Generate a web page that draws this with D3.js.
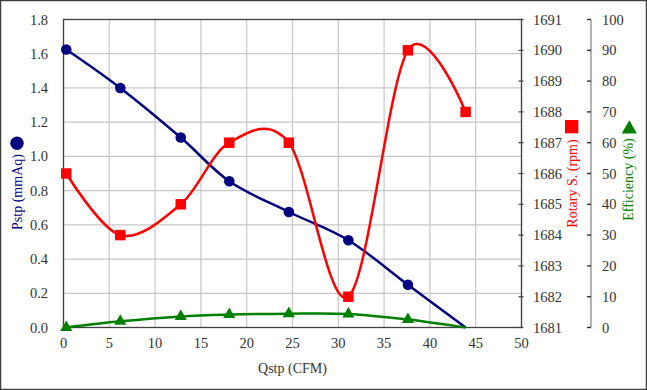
<!DOCTYPE html>
<html>
<head>
<meta charset="utf-8">
<script src="https://cdn.jsdelivr.net/npm/d3@7"></script>
<style>
  body { margin: 0; background: #fff; }
</style>
</head>
<body>
<svg id="chart"></svg>
<script>
const qstp = [0.3, 6.2, 12.8, 18.1, 24.6, 31.1, 37.6, 43.9];
const pstp = [1.625, 1.40, 1.11, 0.855, 0.675, 0.51, 0.25, 0];
const rotary = [1686, 1684, 1685, 1687, 1687, 1682, 1690, 1688];
const efficiency = [0, 2.0, 3.6, 4.2, 4.5, 4.4, 2.6, 0];

const width = 647, height = 390;
const plotL = 63.5, plotR = 521.5, plotT = 19.5, plotB = 327.5;

const svg = d3.select('#chart')
  .attr('width', width)
  .attr('height', height)
  .attr('font-family', '"Liberation Serif", "Times New Roman", "DejaVu Serif", serif');

svg.append('rect')
  .attr('x', 0.5).attr('y', 0.5)
  .attr('width', width - 1).attr('height', height - 1)
  .style('fill', '#fff')
  .style('stroke', '#404040')
  .style('stroke-width', 1.5);

const x = d3.scaleLinear().domain([0, 50]).range([plotL, plotR]);
const yP = d3.scaleLinear().domain([0, 1.8]).range([plotB, plotT]);
const yR = d3.scaleLinear().domain([1681, 1691]).range([plotB, plotT]);
const yE = d3.scaleLinear().domain([0, 100]).range([plotB, plotT]);

// grid
svg.append('g')
  .selectAll('line')
  .data(x.ticks(10))
  .enter().append('line')
    .attr('x1', d => x(d)).attr('x2', d => x(d))
    .attr('y1', plotT).attr('y2', plotB)
    .style('stroke', '#c8c8c8')
    .style('stroke-width', 1.2);
svg.append('g')
  .selectAll('line')
  .data(d3.range(0, 1.81, 0.2))
  .enter().append('line')
    .attr('x1', plotL).attr('x2', plotR)
    .attr('y1', d => yP(d)).attr('y2', d => yP(d))
    .style('stroke', '#c8c8c8')
    .style('stroke-width', 1.2);

// frame
svg.append('rect')
  .attr('x', plotL).attr('y', plotT)
  .attr('width', plotR - plotL).attr('height', plotB - plotT)
  .style('fill', 'none')
  .style('stroke', '#404040')
  .style('stroke-width', 1.3);

const tickColor = '#333';
const fontSize = 14.5;
const titleSize = 14;

// x axis labels
svg.append('g')
  .selectAll('text')
  .data(x.ticks(10))
  .enter().append('text')
    .attr('x', d => x(d))
    .attr('y', 348)
    .attr('text-anchor', 'middle')
    .style('font-size', fontSize)
    .style('fill', tickColor)
    .text(d => d);
svg.append('text')
  .attr('x', x(25)).attr('y', 373)
  .attr('text-anchor', 'middle')
  .style('font-size', titleSize)
  .style('fill', tickColor)
  .text('Qstp (CFM)');

// left axis labels
svg.append('g')
  .selectAll('text')
  .data(d3.range(0, 1.81, 0.2))
  .enter().append('text')
    .attr('x', 48)
    .attr('y', d => yP(d) + 5)
    .attr('text-anchor', 'end')
    .style('font-size', fontSize)
    .style('fill', tickColor)
    .text(d => d3.format('.1f')(d));

// rotary axis
const rTicks = d3.range(1681, 1692, 1);
svg.append('g')
  .selectAll('line')
  .data(rTicks)
  .enter().append('line')
    .attr('x1', plotR - 3).attr('x2', plotR + 2)
    .attr('y1', d => yR(d)).attr('y2', d => yR(d))
    .style('stroke', '#404040')
    .style('stroke-width', 1.2);
svg.append('g')
  .selectAll('text')
  .data(rTicks)
  .enter().append('text')
    .attr('x', 533)
    .attr('y', d => yR(d) + 5)
    .style('font-size', fontSize)
    .style('fill', tickColor)
    .text(d => d);

// efficiency axis
const eAxisX = 591;
const eTicks = d3.range(0, 101, 10);
svg.append('line')
  .attr('x1', eAxisX).attr('x2', eAxisX)
  .attr('y1', plotT).attr('y2', plotB)
  .style('stroke', '#808080')
  .style('stroke-width', 1.2);
svg.append('g')
  .selectAll('line')
  .data(eTicks)
  .enter().append('line')
    .attr('x1', eAxisX - 4).attr('x2', eAxisX)
    .attr('y1', d => yE(d)).attr('y2', d => yE(d))
    .style('stroke', '#333')
    .style('stroke-width', 1.4);
svg.append('g')
  .selectAll('text')
  .data(eTicks)
  .enter().append('text')
    .attr('x', 602)
    .attr('y', d => yE(d) + 5)
    .style('font-size', fontSize)
    .style('fill', tickColor)
    .text(d => d);

// series (the last point of Pstp and Efficiency carries no marker)
const curve = d3.curveCardinal.tension(0);
const series = [
  { values: pstp, y: yP, color: '#000080', marker: 'circle', lastMarker: false },
  { values: rotary, y: yR, color: '#ff0000', marker: 'square', lastMarker: true },
  { values: efficiency, y: yE, color: '#008000', marker: 'triangle', lastMarker: false }
];
const sym = {
  circle: d3.symbol().type(d3.symbolCircle).size(Math.PI * 5.3 * 5.3),
  square: d3.symbol().type(d3.symbolSquare).size(110),
  triangle: d3.symbol().type(d3.symbolTriangle).size(64)
};

series.forEach(s => {
  const pts = qstp.map((q, i) => [x(q), s.y(s.values[i])]);
  svg.append('path')
    .attr('d', d3.line().curve(curve)(pts))
    .style('fill', 'none')
    .style('stroke', s.color)
    .style('stroke-width', 2.5);
  svg.append('g')
    .selectAll('path')
    .data(s.lastMarker ? pts : pts.slice(0, pts.length - 1))
    .enter().append('path')
      .attr('transform', d => `translate(${d[0]},${d[1]})`)
      .attr('d', sym[s.marker])
      .style('fill', s.color);
});

// axis titles with marker keys
function yTitle(xc, yc, label, color) {
  svg.append('text')
    .attr('transform', `translate(${xc},${yc}) rotate(-90)`)
    .attr('text-anchor', 'middle')
    .attr('dy', '0.35em')
    .style('font-size', titleSize)
    .style('fill', color)
    .text(label);
}
yTitle(17.5, 192, 'Pstp (mmAq)', '#000080');
svg.append('circle').attr('cx', 17).attr('cy', 143.3).attr('r', 6.7).style('fill', '#000080');

yTitle(572, 183.5, 'Rotary S. (rpm)', '#ff0000');
svg.append('rect').attr('x', 565).attr('y', 120).attr('width', 13.3).attr('height', 13.3).style('fill', '#ff0000');

yTitle(628.5, 179.5, 'Efficiency (%)', '#008000');
svg.append('path')
  .attr('transform', 'translate(629.3,129)')
  .attr('d', d3.symbol().type(d3.symbolTriangle).size(100)())
  .style('fill', '#008000');
</script>
</body>
</html>
